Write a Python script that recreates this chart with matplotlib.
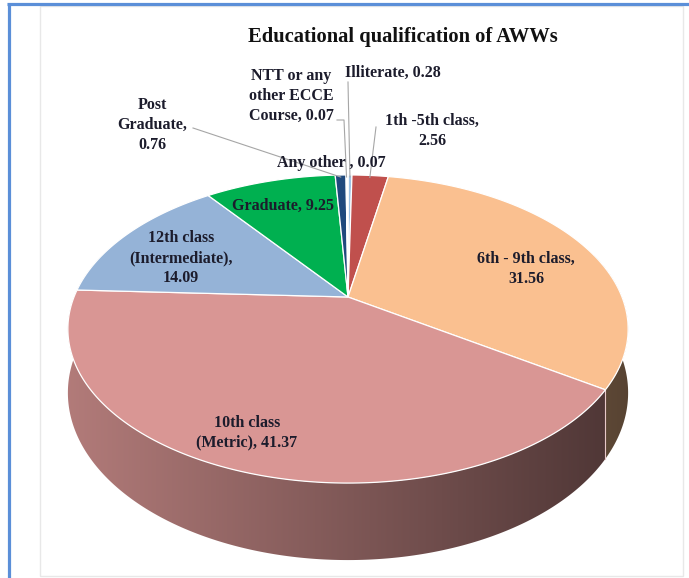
import numpy as np
import matplotlib.pyplot as plt
from matplotlib.patches import Polygon, Rectangle
from matplotlib.colors import to_rgb

# Data (percent of AWWs), clockwise from 12 o'clock
categories = ['Illiterate', '1th -5th class', '6th - 9th class', '10th class (Metric)',
              '12th class (Intermediate)', 'Graduate', 'Post Graduate',
              'NTT or any other ECCE Course', 'Any other']
values = [0.28, 2.56, 31.56, 41.37, 14.09, 9.25, 0.76, 0.07, 0.07]
label_texts = ['Illiterate, 0.28', '1th -5th class,\n2.56', '6th - 9th class,\n31.56',
               '10th class\n(Metric), 41.37', '12th class\n(Intermediate),\n14.09',
               'Graduate, 9.25', 'Post\nGraduate,\n0.76', 'NTT or any\nother ECCE\nCourse, 0.07',
               'Any other , 0.07']
colors = ['#9DC3E6', '#C0504D', '#FAC090', '#D99694', '#95B3D7', '#00B050', '#1F497D',
          '#C6D9F1', '#4F81BD']

# label positions in pixels (layout)
label_pos = [(393, 73), (432, 131), (526, 269), (247, 433), (181, 258),
             (283, 206), (152, 125), (291, 96), (331, 163)]
# leader line starts (None = no leader)
leader_start = [[(348, 82)], [(376, 127)], None, None, None, None, [(193, 128)],
                [(337, 120), (344, 120)], None]

# pie geometry in pixels (perspective view)
CX, CY = 348, 297
A, B, K = 274, 147.4, 0.2078
DEPTH = 61


def proj(phi_deg, r=1.0, drop=0.0):
    phi = np.radians(phi_deg)
    u = r * np.sin(phi)
    v = -r * np.cos(phi)
    w = 1 - K * v
    return CX + A * u / w, CY + (B * v + drop) / w


def shade_factor(x):
    f = 0.82 - 0.47 * (x - 68) / 560
    return np.clip(f, 0.3, 0.85)


fig = plt.figure(figsize=(6.89, 5.78), dpi=100)
ax = fig.add_axes([0, 0, 1, 1])
ax.set_xlim(0, 689)
ax.set_ylim(578, 0)
ax.axis('off')

# frames
ax.add_patch(Rectangle((40, 5.5), 643, 570.5, fill=False, ec='#E8E8E8', lw=1))
ax.plot([7, 689], [3.5, 3.5], color='#5B8FD8', lw=2.3, solid_capstyle='butt')
ax.plot([8.5, 8.5], [2.5, 578], color='#5B8FD8', lw=2.3, solid_capstyle='butt')

total = sum(values)
bounds = np.concatenate([[0], np.cumsum(values) / total * 360])

# side walls (front part only), gradient-filled
xs = np.arange(0, 689)
for i, c in enumerate(colors):
    a0, a1 = bounds[i], bounds[i + 1]
    angs = np.linspace(a0, a1, max(int((a1 - a0) * 2), 2))
    angs = angs[-np.cos(np.radians(angs)) > -0.3]
    if len(angs) < 2:
        continue
    top = [proj(a) for a in angs]
    bot = [proj(a, drop=DEPTH) for a in angs[::-1]]
    wall = Polygon(top + bot, closed=True, fc='none', ec='none')
    ax.add_patch(wall)
    grad = np.array(to_rgb(c))[None, None, :] * shade_factor(xs)[None, :, None]
    im = ax.imshow(grad, extent=(0, 689, 578, 0), aspect='auto', interpolation='bilinear',
                   zorder=1)
    im.set_clip_path(wall)
    if -np.cos(np.radians(a1)) > 0.1 and i < len(colors) - 1:
        xa, ya = proj(a1)
        xb, yb = proj(a1, drop=DEPTH)
        ax.plot([xa, xb], [ya, yb], color='#E8C8C8', lw=0.8, zorder=2)

ax.set_xlim(0, 689)
ax.set_ylim(578, 0)

# top faces
for i, c in enumerate(colors):
    a0, a1 = bounds[i], bounds[i + 1]
    angs = np.linspace(a0, a1, max(int((a1 - a0) * 2), 2))
    pts = [(CX, CY)] + [proj(a) for a in angs]
    ax.add_patch(Polygon(pts, closed=True, fc=c, ec='white', lw=0.9, zorder=3))

# labels and leader lines
for i, t in enumerate(label_texts):
    ax.text(label_pos[i][0], label_pos[i][1], t, ha='center', va='center',
            fontsize=11.5, fontweight='bold', family='Liberation Serif',
            color='#1C1C2C', linespacing=1.3, zorder=5)
    if leader_start[i] is not None:
        mid = (bounds[i] + bounds[i + 1]) / 2
        pts = leader_start[i] + [proj(mid, r=0.98)]
        ax.plot([p[0] for p in pts], [p[1] for p in pts], color='#A6A6A6', lw=0.8, zorder=4)

ax.text(403, 37, 'Educational qualification of AWWs', ha='center', va='center',
        fontsize=14.8, fontweight='bold', family='Liberation Serif', color='#111111')

fig.savefig('out.png', dpi=100)
plt.close()
